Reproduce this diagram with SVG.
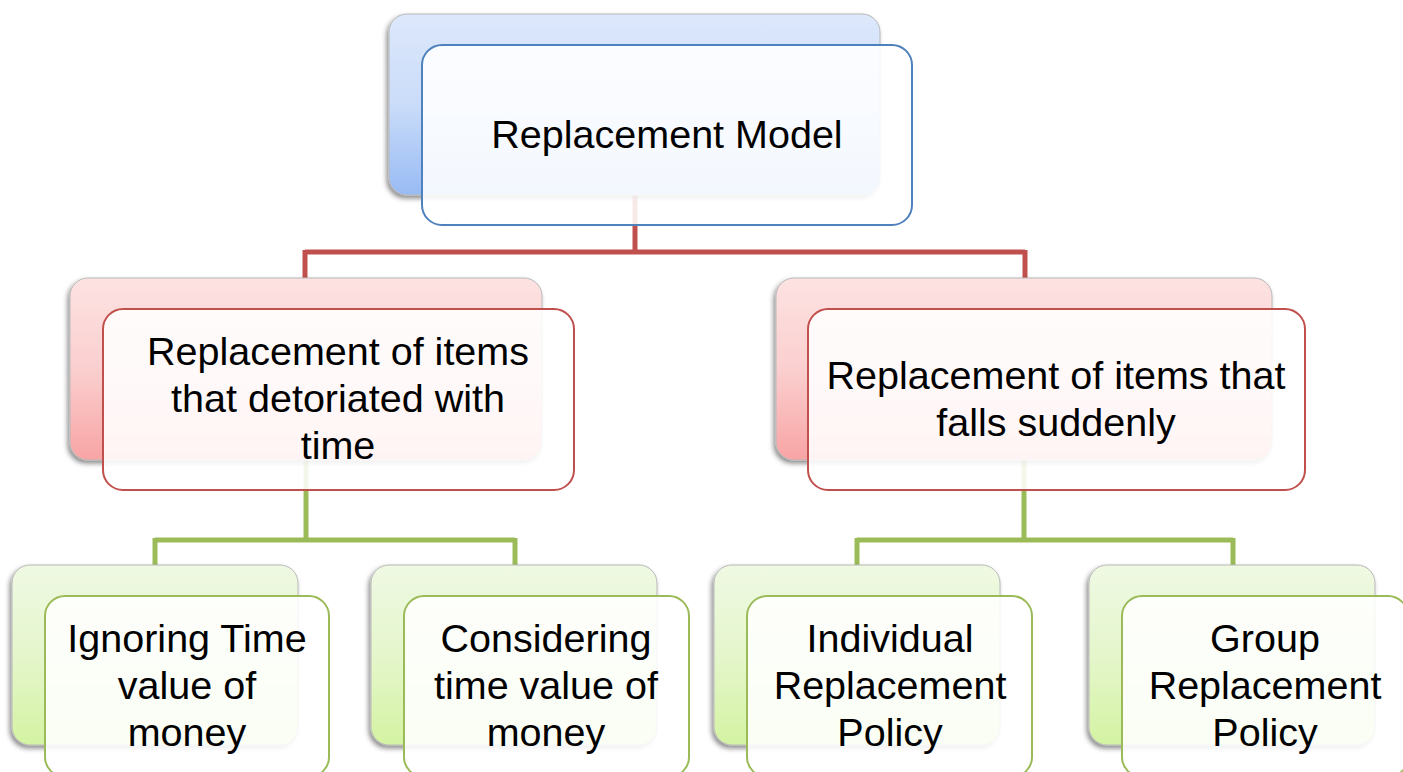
<svg xmlns="http://www.w3.org/2000/svg" width="1403" height="772" viewBox="0 0 1403 772">
<defs>
<linearGradient id="gBlue" x1="0" y1="0" x2="0" y2="1"><stop offset="0" stop-color="#dde8fb"/><stop offset="0.5" stop-color="#cadcf9"/><stop offset="1" stop-color="#98bbf4"/></linearGradient>
<linearGradient id="gRed" x1="0" y1="0" x2="0" y2="1"><stop offset="0" stop-color="#fde2e2"/><stop offset="0.5" stop-color="#fbcfcf"/><stop offset="1" stop-color="#f8a4a4"/></linearGradient>
<linearGradient id="gGreen" x1="0" y1="0" x2="0" y2="1"><stop offset="0" stop-color="#eff9e3"/><stop offset="0.5" stop-color="#e5f6cc"/><stop offset="1" stop-color="#d4f3a2"/></linearGradient>
<filter id="sh" x="-10%" y="-10%" width="120%" height="125%"><feDropShadow dx="-2" dy="3" stdDeviation="2.5" flood-color="#000" flood-opacity="0.45"/></filter>
</defs>
<style>
.back{stroke:#b8b8b8;stroke-width:1;filter:url(#sh)}
.front{fill:#ffffff;fill-opacity:0.88;stroke-width:2}
.fb{stroke:#4f81bd}.fr{stroke:#c0504d}.fg{stroke:#9bbb59}
.t{font-family:"Liberation Sans",Arial,sans-serif;font-size:39.5px;fill:#000;text-anchor:middle}
.cr{fill:none;stroke:#c0504d;stroke-width:5}
.cg{fill:none;stroke:#9bbb59;stroke-width:5}
</style>
<rect width="1403" height="772" fill="#ffffff"/>
<g id="connectors">
<path class="cr" d="M635 195 V252 M305 252 H1025 M305 250 V280 M1025 250 V280"/>
<path class="cg" d="M306 460 V540 M155 540 H515 M155 538 V567 M515 538 V567"/>
<path class="cg" d="M1024 460 V540 M857 540 H1233 M857 538 V567 M1233 538 V567"/>
</g>
<g id="node-root">
<rect class="back" x="389" y="14" width="491" height="181" rx="18" fill="url(#gBlue)"/>
<rect class="front fb" x="422" y="45" width="490" height="180" rx="20"/>
<text class="t" x="667" y="148">Replacement Model</text>
</g>
<g id="node-deteriorate">
<rect class="back" x="70" y="278" width="472" height="182" rx="18" fill="url(#gRed)"/>
<rect class="front fr" x="103" y="309" width="471" height="181" rx="20"/>
<text class="t" x="338" y="365">Replacement of items</text>
<text class="t" x="338" y="412">that detoriated with</text>
<text class="t" x="338" y="459">time</text>
</g>
<g id="node-sudden">
<rect class="back" x="776" y="278" width="496" height="182" rx="18" fill="url(#gRed)"/>
<rect class="front fr" x="808" y="309" width="497" height="181" rx="20"/>
<text class="t" x="1056" y="389">Replacement of items that</text>
<text class="t" x="1056" y="436">falls suddenly</text>
</g>
<g id="node-ignoring">
<rect class="back" x="12" y="565" width="286" height="180" rx="18" fill="url(#gGreen)"/>
<rect class="front fg" x="45" y="596" width="284" height="181" rx="20"/>
<text class="t" x="187" y="652">Ignoring Time</text>
<text class="t" x="187" y="699">value of</text>
<text class="t" x="187" y="746">money</text>
</g>
<g id="node-considering">
<rect class="back" x="371" y="565" width="286" height="180" rx="18" fill="url(#gGreen)"/>
<rect class="front fg" x="404" y="596" width="285" height="181" rx="20"/>
<text class="t" x="546" y="652">Considering</text>
<text class="t" x="546" y="699">time value of</text>
<text class="t" x="546" y="746">money</text>
</g>
<g id="node-individual">
<rect class="back" x="714" y="565" width="286" height="180" rx="18" fill="url(#gGreen)"/>
<rect class="front fg" x="747" y="596" width="285" height="181" rx="20"/>
<text class="t" x="890" y="652">Individual</text>
<text class="t" x="890" y="699">Replacement</text>
<text class="t" x="890" y="746">Policy</text>
</g>
<g id="node-group">
<rect class="back" x="1089" y="565" width="286" height="180" rx="18" fill="url(#gGreen)"/>
<rect class="front fg" x="1122" y="596" width="286" height="181" rx="20"/>
<text class="t" x="1265" y="652">Group</text>
<text class="t" x="1265" y="699">Replacement</text>
<text class="t" x="1265" y="746">Policy</text>
</g>
</svg>
